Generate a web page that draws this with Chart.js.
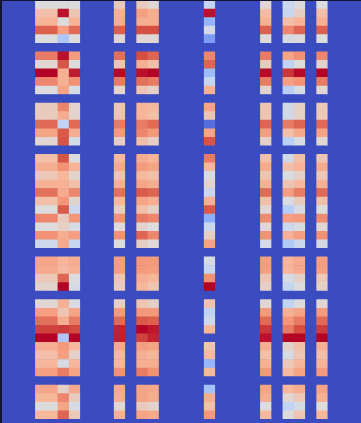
<!DOCTYPE html>
<html>
<head>
<meta charset="utf-8">
<style>
  html, body { margin: 0; padding: 0; background: #3b4cc0; overflow: hidden; }
  canvas { display: block; }
</style>
<script src="https://cdn.jsdelivr.net/npm/chart.js@4"></script>
</head>
<body>
<canvas id="heatmap" width="361" height="423"></canvas>
<script>
// one list per filled column, top row first (0 = deep blue, 1 = dark red)
const columnCount = 32;
const rowCount = 50;

const colA = [.5,.6,.64,.85,.5,0, .8,.52,1,.78,.5,0, .56,.56,.83,.7,.52,0, .6,.66,.57,.65,.82,.6,.5,.78,.5,.76,.43,0, .69,.68,.57,.53,0, .52,.72,.82,.9,1,.66,.6,.63,.72,0, .69,.63,.5,.63,0];
const colB = [.5,.98,.5,.72,.33,0, .98,.87,.65,.65,.7,0, .78,.67,.38,.86,.87,0, .87,.76,.63,.65,.67,.75,.86,.56,.55,.67,.68,0, .64,.62,.84,1,0, .65,.58,.66,.91,.33,.74,.72,.47,.8,0, .54,.78,.7,.84,0];
const colC = [.5,.58,.64,.83,.5,0, .73,.5,.96,.76,.47,0, .53,.53,.83,.66,.47,0, .5,.64,.53,.6,.78,.53,.42,.75,.47,.72,.4,0, .66,.65,.5,.47,0, .48,.7,.8,.89,1,.62,.54,.63,.7,0, .68,.56,.47,.57,0];
const colD = [.56,.65,.66,.85,.52,0, .82,.58,.99,.8,.53,0, .58,.58,.8,.74,.55,0, .62,.68,.58,.65,.82,.63,.55,.76,.51,.76,.5,0, .72,.72,.58,.56,0, .55,.73,.83,.95,.96,.68,.62,.63,.76,0, .68,.66,.52,.65,0];
const colE = [.56,.72,.66,.88,.52,0, .88,.66,.98,.82,.58,0, .64,.64,.8,.78,.6,0, .67,.73,.62,.7,.86,.7,.6,.8,.53,.84,.55,0, .74,.74,.66,.63,0, .58,.74,.86,1,.9,.72,.66,.66,.8,0, .7,.7,.56,.7,0];
const colF = [.52,.66,.66,.88,.52,0, .84,.6,1,.8,.54,0, .62,.6,.83,.74,.55,0, .64,.7,.6,.66,.84,.66,.54,.78,.5,.78,.51,0, .73,.72,.63,.58,0, .54,.74,.85,.97,.95,.7,.63,.66,.76,0, .68,.66,.53,.68,0];
const colG = [.4,.98,.27,.47,.2,0, .78,.84,.29,.4,.65,0, .7,.58,.08,.7,.87,0, .8,.63,.48,.53,.42,.65,.86,.25,.42,.55,.7,0, .47,.4,.76,1,0, .59,.37,.43,.63,0,.58,.62,.27,.62,0, .31,.66,.6,.74,0];
const colH = [.52,.61,.65,.85,.51,0, .8,.56,.99,.8,.53,0, .58,.58,.84,.72,.54,0, .6,.68,.58,.65,.83,.6,.52,.77,.52,.76,.47,0, .72,.72,.58,.54,0, .52,.73,.83,.92,.98,.66,.6,.65,.74,0, .7,.67,.5,.62,0];
const colI = [.42,.41,.6,.78,.47,0, .7,.38,.92,.72,.36,0, .45,.45,.8,.6,.36,0, .45,.6,.48,.58,.72,.48,.35,.72,.42,.65,.34,0, .64,.64,.47,.4,0, .38,.65,.75,.8,1,.54,.47,.57,.62,0, .63,.52,.38,.5,0];
const colJ = [.5,.55,.64,.84,.49,0, .76,.5,.99,.76,.47,0, .54,.54,.84,.68,.48,0, .6,.64,.54,.62,.8,.56,.47,.74,.48,.72,.42,0, .68,.68,.54,.5,0, .49,.7,.8,.88,1,.6,.58,.63,.7,0, .67,.57,.47,.58,0];
const colK = [.5,.6,.65,.85,.5,0, .78,.53,1,.8,.52,0, .57,.57,.83,.7,.52,0, .58,.67,.57,.65,.83,.6,.5,.77,.52,.76,.46,0, .72,.71,.57,.54,0, .52,.73,.83,.91,1,.65,.6,.64,.73,0, .7,.65,.5,.63,0];
const emptyCol = Array(rowCount).fill(0);

// which list sits in which column
const columnValues = {3: colA, 4: colA, 5: colB, 6: colC, 10: colD, 12: colE, 13: colF, 18: colG, 23: colH, 25: colI, 26: colJ, 28: colK};

const rowLabels = Array.from({length: rowCount}, (_, i) => i);

// coolwarm stops
const stops = [[59,76,192],[98,130,234],[141,176,254],[192,212,245],[221,220,220],[247,184,156],[244,150,120],[214,82,68],[180,4,38]];

function coolwarm(v) {
    const p = Math.min(Math.max(v, 0), 1) * (stops.length - 1);
    const i = Math.min(Math.floor(p), stops.length - 2);
    const f = p - i;
    const c = stops[i].map((s, k) => Math.round(s + (stops[i + 1][k] - s) * f));
    return `rgb(${c[0]},${c[1]},${c[2]})`;
}

const datasets = [];
for (let col = 0; col < columnCount; col++) {
    const values = columnValues[col] || emptyCol;
    datasets.push({
        label: "col " + col,
        data: rowLabels.map(row => ({ x: [col, col + 1], y: row + 0.5 })),
        backgroundColor: values.map(coolwarm),
        borderWidth: 0,
        barPercentage: 1,
        categoryPercentage: 1,
        grouped: false
    });
}

new Chart(document.getElementById("heatmap"), {
    type: "bar",
    data: { datasets: datasets },
    options: {
        indexAxis: "y",
        responsive: false,
        animation: false,
        layout: { padding: { left: 1, top: 0.5, right: 0, bottom: 0 } },
        plugins: { legend: { display: false }, tooltip: { enabled: false } },
        scales: {
            x: {
                type: "linear", position: "top", min: 0, max: columnCount,
                grid: { display: false, drawTicks: false },
                ticks: { display: false },
                border: { display: true, color: "#14142e", width: 1, z: 1 }
            },
            y: {
                type: "linear", reverse: true, offset: false, min: 0, max: 49.43,
                grid: { display: false, drawTicks: false },
                ticks: { display: false },
                border: { display: true, color: "#14142e", width: 2, z: 1 }
            }
        }
    }
});
</script>
</body>
</html>
